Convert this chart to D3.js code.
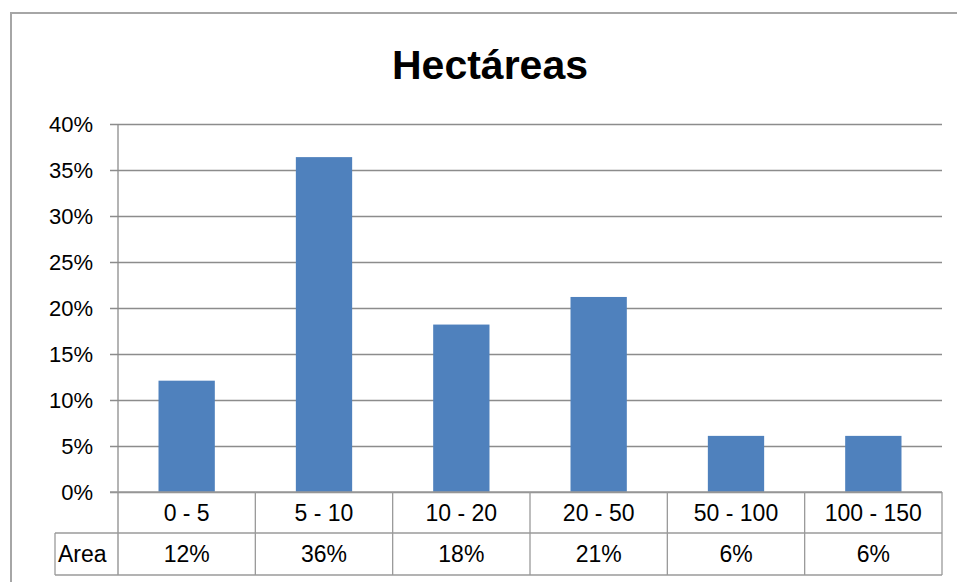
<!DOCTYPE html>
<html>
<head>
<meta charset="utf-8">
<script src="https://cdn.jsdelivr.net/npm/d3@7"></script>
<style>
  html, body { margin: 0; padding: 0; background: #fff; }
  svg { display: block; }
  text { font-family: "Liberation Sans", Arial, sans-serif; fill: #000; }
</style>
</head>
<body>
<svg id="chart" width="957" height="582"></svg>
<script>
const title = "Hectáreas";
const categories = ["0 - 5", "5 - 10", "10 - 20", "20 - 50", "50 - 100", "100 - 150"];
const values = [0.121, 0.364, 0.182, 0.212, 0.061, 0.061];
const tableLabels = ["12%", "36%", "18%", "21%", "6%", "6%"];
const seriesName = "Area";
const yTicks = [0, 0.05, 0.10, 0.15, 0.20, 0.25, 0.30, 0.35, 0.40];

const svg = d3.select("#chart");
const W = 957, H = 582;
const plotL = 118, plotR = 942, plotT = 124, plotB = 492;
const row1B = 533, row2B = 575, tableL = 55;
const gridColor = "#8c8c8c";
const borderColor = "#9a9a9a";

// outer frame
svg.append("rect").attr("x", 11).attr("y", 13).attr("width", W).attr("height", H)
  .attr("fill", "#fff").attr("stroke", "#a6a6a6").attr("stroke-width", 2);

// title
svg.append("text").attr("x", 490).attr("y", 79).attr("text-anchor", "middle")
  .style("font-size", "41px").style("font-weight", "bold").text(title);

const x = d3.scaleBand().domain(categories).range([plotL, plotR]).padding(0);
const xb = d3.scaleBand().domain(categories).range([plotL, plotR]).paddingInner(0.59).paddingOuter(0.295);
const y = d3.scaleLinear().domain([0, 0.40]).range([plotB, plotT]);

// y axis with gridlines
const yAxis = d3.axisLeft(y).tickValues(yTicks).tickFormat(d3.format(".0%"))
  .tickSize(-(plotR - plotL)).tickPadding(0);
const gy = svg.append("g").attr("transform", `translate(${plotL},0)`).call(yAxis);
gy.select(".domain").remove();
gy.selectAll(".tick line").attr("stroke", gridColor).attr("stroke-width", 1.3).attr("x1", -8);
gy.selectAll(".tick text").attr("x", -25).attr("dy", "0.35em")
  .style("font-size", "22px").style("font-family", "Liberation Sans, Arial, sans-serif").attr("fill", "#000");

// bars
svg.append("g").selectAll("rect").data(categories).join("rect")
  .attr("x", d => xb(d)).attr("width", xb.bandwidth())
  .attr("y", (d, i) => y(values[i])).attr("height", (d, i) => plotB - y(values[i]))
  .attr("fill", "#4f81bd");

// y axis line (extends through table)
svg.append("line").attr("x1", plotL).attr("x2", plotL).attr("y1", plotT).attr("y2", row2B)
  .attr("stroke", gridColor).attr("stroke-width", 1.3);

// data table
const tg = svg.append("g");
const hl = [[plotL - 8, plotB], [tableL, row1B], [tableL, row2B]];
hl.forEach(([x0, yy]) => tg.append("line").attr("x1", x0).attr("x2", plotR).attr("y1", yy).attr("y2", yy)
  .attr("stroke", borderColor).attr("stroke-width", 1.3));
categories.forEach(c => {
  tg.append("line").attr("x1", x(c) + x.bandwidth()).attr("x2", x(c) + x.bandwidth())
    .attr("y1", plotB).attr("y2", row2B).attr("stroke", borderColor).attr("stroke-width", 1.3);
});
tg.append("line").attr("x1", tableL).attr("x2", tableL).attr("y1", row1B).attr("y2", row2B)
  .attr("stroke", borderColor).attr("stroke-width", 1.3);

tg.selectAll("text.cat").data(categories).join("text").attr("class", "cat")
  .attr("x", d => x(d) + x.bandwidth() / 2).attr("y", (plotB + row1B) / 2).attr("dy", "0.35em")
  .attr("text-anchor", "middle").style("font-size", "23px").text(d => d);
tg.selectAll("text.val").data(tableLabels).join("text").attr("class", "val")
  .attr("x", (d, i) => x(categories[i]) + x.bandwidth() / 2).attr("y", (row1B + row2B) / 2).attr("dy", "0.35em")
  .attr("text-anchor", "middle").style("font-size", "23px").text(d => d);
tg.append("text").attr("x", tableL + 3).attr("y", (row1B + row2B) / 2).attr("dy", "0.35em")
  .style("font-size", "23px").text(seriesName);
</script>
</body>
</html>
